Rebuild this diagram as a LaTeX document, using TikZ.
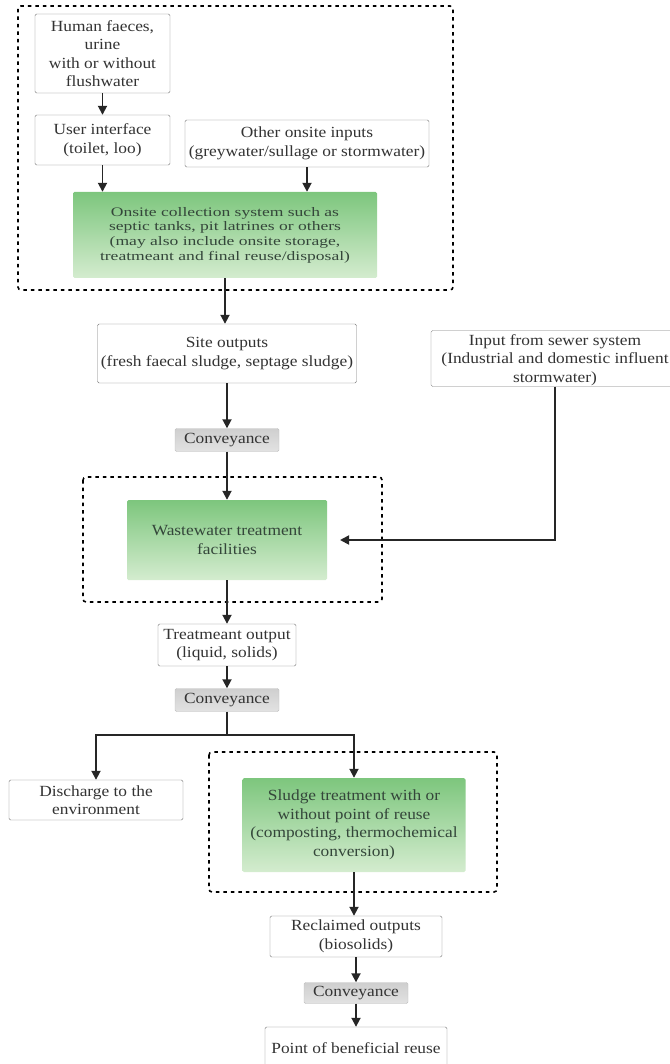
\documentclass[tikz,border=0pt]{standalone}
\usepackage{fontspec}
\setmainfont{Liberation Serif}[FakeStretch=1.12]
\newfontfamily\widefont{Liberation Serif}[FakeStretch=1.35]
\usetikzlibrary{arrows.meta}

\definecolor{boxline}{HTML}{7A7A7A}
\definecolor{txt}{HTML}{333333}
\definecolor{gtop}{HTML}{7DC67D}
\definecolor{gbot}{HTML}{D4ECCF}
\definecolor{gtxt}{HTML}{34463A}
\definecolor{convtop}{HTML}{CFCFCF}
\definecolor{convbot}{HTML}{E2E2E2}

\begin{document}
\begin{tikzpicture}[x=1pt, y=-1pt,
    >={Triangle[length=9pt,width=9pt]},
    font=\fontsize{15.5}{18.5}\selectfont,
    box/.style = {
      draw = boxline,
      fill = white,
      rounded corners = 1.5pt,
      text = txt,
      align = center,
      inner sep = 0pt
    },
    greenbox/.style = {
      box,
      draw = none,
      top color = gtop,
      bottom color = gbot,
      text = gtxt
    },
    convbox/.style = {
      box,
      draw = black!25,
      top color = convtop,
      bottom color = convbot,
      minimum width = 104pt,
      minimum height = 23pt
    },
    frame/.style = {
      draw,
      line width = 1.6pt,
      dash pattern = on 3.5pt off 4pt,
      rounded corners = 3pt
    },
    flow/.style = {
      ->,
      line width = 1.8pt,
      draw = black!85
    }
  ]
  \useasboundingbox (0,0) rectangle (669,1064);

  % dashed groups
  \draw[frame] (18,6) rectangle (453,290);
  \draw[frame] (83,477) rectangle (382,602);
  \draw[frame] (209,752) rectangle (497,892);

  % onsite part
  \node[box, minimum width=135pt, minimum height=79pt] (faeces) at (102.5,53.5)
    {Human faeces,\\urine\\with or without\\flushwater};
  \node[box, minimum width=135pt, minimum height=50pt] (user) at (102.5,140)
    {User interface\\(toilet, loo)};
  \node[box, minimum width=244pt, minimum height=47pt] (other) at (307,143.5)
    {Other onsite inputs\\(greywater/sullage or stormwater)};
  \node[greenbox, minimum width=304pt, minimum height=86pt,
    font=\widefont\fontsize{13}{14.7}\selectfont] (onsite) at (225,235)
    {Onsite collection system such as\\septic tanks, pit latrines or others\\(may also include onsite storage,\\treatmeant and final reuse/disposal)};

  % treatment
  \node[box, minimum width=259pt, minimum height=59pt] (site) at (227,353.5)
    {Site outputs\\(fresh faecal sludge, septage sludge)};
  \node[box, minimum width=248pt, inner ysep=4pt] (sewer) at (555,358.5)
    {Input from sewer system\\(Industrial and domestic influent\\\smash{stormwater)}};
  \node[convbox] (conv1) at (227,440) {Conveyance};
  \node[greenbox, minimum width=200pt, minimum height=80pt] (wwt) at (227,540)
    {Wastewater treatment\\facilities};
  \node[box, minimum width=138pt, minimum height=42pt] (treat) at (227,645)
    {Treatmeant output\\(liquid, solids)};
  \node[convbox] (conv2) at (227,700) {Conveyance};

  % disposal and reuse
  \node[box, minimum width=174pt, minimum height=40pt] (discharge) at (96,800)
    {Discharge to the\\environment};
  \node[greenbox, minimum width=223pt, minimum height=94pt] (sludge) at (354,825)
    {Sludge treatment with or\\without point of reuse\\(composting, thermochemical\\conversion)};
  \node[box, minimum width=172pt, minimum height=41pt] (reclaimed) at (356,936.5)
    {Reclaimed outputs\\(biosolids)};
  \node[convbox, minimum height=21pt] (conv3) at (356,993) {Conveyance};
  \node[box, minimum width=182pt, minimum height=42pt] (point) at (356,1048)
    {Point of beneficial reuse};

  \coordinate (split) at (227,735);
  \coordinate (wwtin) at (340,540);

  \draw[flow] (faeces) -- (user);
  \draw[flow] (user.south) -- (user.south |- onsite.north);
  \draw[flow] (other.south) -- (other.south |- onsite.north);
  \draw[flow] (onsite.south) -- (onsite.south |- site.north);
  \draw[flow] (site) -- (conv1);
  \draw[flow] (conv1) -- (wwt);
  \draw[flow] (sewer.south) |- (wwtin);
  \draw[flow] (wwt) -- (treat);
  \draw[flow] (treat) -- (conv2);
  \draw[flow, -] (conv2) -- (split);
  \draw[flow] (split) -| (discharge.north);
  \draw[flow] (split) -| (sludge.north);
  \draw[flow] (sludge.south) -- (sludge.south |- reclaimed.north);
  \draw[flow] (reclaimed) -- (conv3);
  \draw[flow] (conv3) -- (point);
\end{tikzpicture}
\end{document}
